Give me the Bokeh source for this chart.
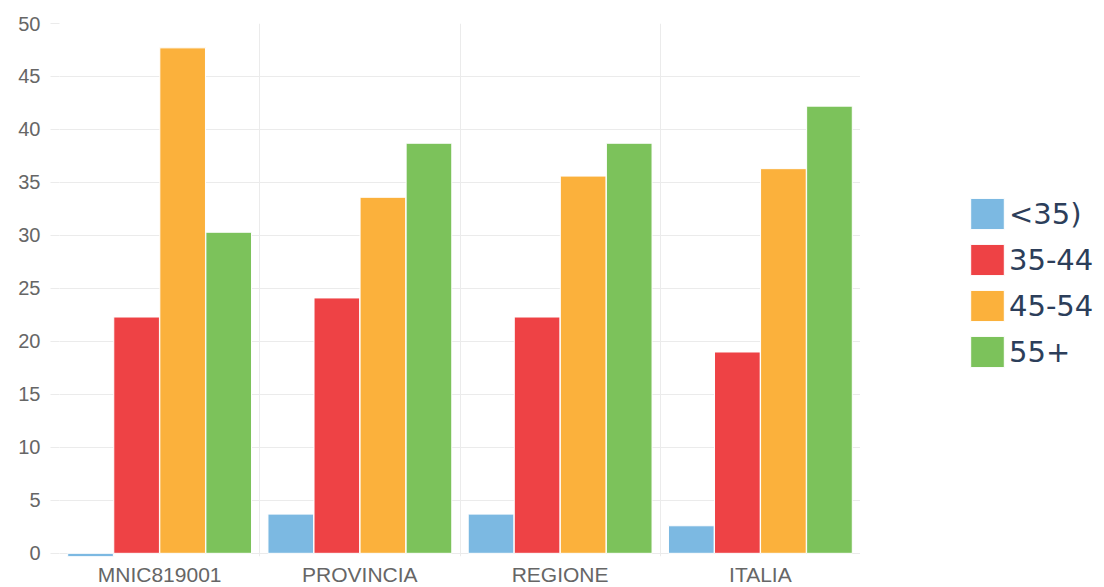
from bokeh.plotting import figure
from bokeh.layouts import row
from bokeh.models import Range1d, FixedTicker, Legend, LegendItem, ColumnDataSource
from bokeh.embed import file_html
from bokeh.resources import INLINE

categories = ["MNIC819001", "PROVINCIA", "REGIONE", "ITALIA"]
series_names = ["<35)", "35-44", "45-54", "55+"]
under35 = [-0.3, 3.7, 3.7, 2.6]
age35_44 = [22.3, 24.1, 22.3, 19.0]
age45_54 = [47.7, 33.6, 35.6, 36.3]
age55plus = [30.3, 38.7, 38.7, 42.2]
colors = ["#7CB9E2", "#EE4245", "#FBB13C", "#7CC25B"]
y_ticks = list(range(0, 55, 5))

series = [under35, age35_44, age45_54, age55plus]
offsets = [-0.345, -0.115, 0.115, 0.345]

p = figure(frame_width=801, frame_height=533, output_backend="svg", toolbar_location=None,
           x_range=Range1d(0, len(categories)), y_range=Range1d(-0.3, 50),
           min_border_left=59, min_border_right=0, min_border_top=23, min_border_bottom=0)
p.outline_line_color = None
p.background_fill_color = "white"
p.border_fill_color = "white"

for name, vals, off, col in zip(series_names, series, offsets, colors):
    src = ColumnDataSource(dict(x=[i + 0.5 + off for i in range(len(categories))], top=vals))
    p.vbar(x="x", top="top", bottom=0, width=0.228, source=src,
           fill_color=col, line_color="white", line_width=1)

# grids
p.xgrid.ticker = FixedTicker(ticks=list(range(len(categories) + 1)))
p.xgrid.grid_line_color = "#ebebeb"
p.ygrid.ticker = FixedTicker(ticks=y_ticks)
p.ygrid.grid_line_color = "#ebebeb"

# x axis
xa = p.xaxis[0]
xa.ticker = FixedTicker(ticks=[i + 0.5 for i in range(len(categories))])
xa.major_label_overrides = {i + 0.5: c for i, c in enumerate(categories)}
xa.axis_line_color = None
xa.major_tick_line_color = None
xa.minor_tick_line_color = None
xa.major_tick_out = 0
xa.major_label_text_font = "Liberation Sans"
xa.major_label_text_font_size = "21px"
xa.major_label_text_color = "#666666"
xa.major_label_standoff = 6

# y axis
ya = p.yaxis[0]
ya.ticker = FixedTicker(ticks=y_ticks)
ya.axis_line_color = None
ya.major_tick_out = 9
ya.major_tick_in = 0
ya.major_tick_line_color = "#ebebeb"
ya.minor_tick_line_color = None
ya.major_label_text_font = "Liberation Sans"
ya.major_label_text_font_size = "20px"
ya.major_label_text_color = "#666666"
ya.major_label_standoff = 10

# legend panel (legend swatches use renderers whose data lies outside the visible range)
p2 = figure(width=236, height=580, output_backend="svg", toolbar_location=None,
            x_axis_location=None, y_axis_location=None,
            x_range=Range1d(0, 1), y_range=Range1d(0, 1),
            min_border_left=0, min_border_right=0, min_border_top=0, min_border_bottom=0)
p2.outline_line_color = None
p2.grid.visible = False
items = []
for name, col in zip(series_names, colors):
    r = p2.vbar(x=[5], top=[6], bottom=5, width=0.1, fill_color=col, line_color="white", line_width=1)
    items.append(LegendItem(label=name, renderers=[r]))
legend = Legend(items=items, location=(106, 177), glyph_width=42, glyph_height=39,
                label_text_font="DejaVu Sans", label_text_font_size="29px",
                label_text_color="#2c3e5a", spacing=7, padding=0, margin=0,
                label_standoff=1, border_line_color=None, background_fill_alpha=0)
p2.add_layout(legend)

open("out.html", "w").write(file_html(row(p, p2), INLINE))
